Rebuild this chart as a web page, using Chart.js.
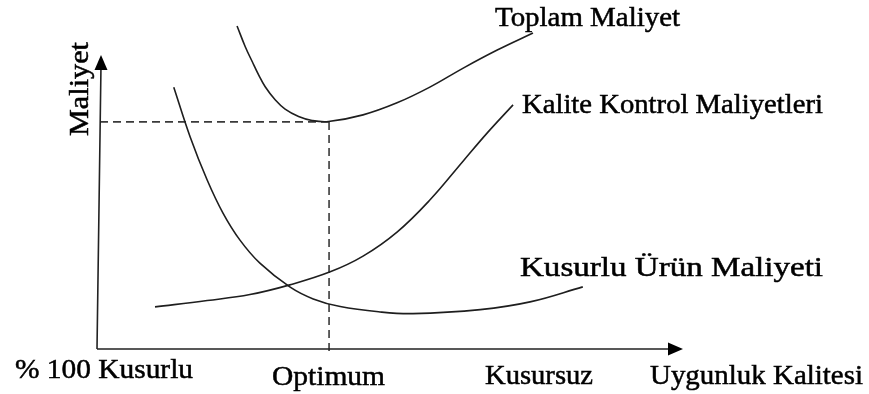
<!DOCTYPE html>
<html>
<head>
<meta charset="utf-8">
<script src="https://cdn.jsdelivr.net/npm/chart.js@4/dist/chart.umd.min.js"></script>
<style>
  html, body { margin: 0; padding: 0; background: #fff; }
  #wrap { width: 869px; height: 394px; }
</style>
</head>
<body>
<div id="wrap"><canvas id="graph"></canvas></div>
<script>
// values (x: uygunluk kalitesi 0-100, y: maliyet 0-100)
const toplamX = [23.9, 25.3, 26.5, 27.6, 28.7, 30.4, 32.1, 34.4, 36.7, 39.5, 45.4, 51.2, 56.8, 62.5, 68.3, 74.4];
const toplamY = [96.7, 90.5, 86.0, 82.0, 78.5, 74.6, 71.8, 69.6, 68.4, 68.1, 70.1, 73.7, 78.4, 84.1, 89.5, 94.6];

const kontrolX = [9.9, 18.8, 26.1, 32.9, 39.8, 45.4, 51.2, 56.8, 62.5, 66.6, 71.0];
const kontrolY = [12.6, 14.5, 16.3, 19.2, 23.1, 27.8, 35.0, 44.6, 56.3, 64.7, 73.1];

const kusurluX = [13.1, 15.9, 18.8, 21.5, 24.4, 27.8, 32.9, 36.9, 41.5, 48.3, 53.9, 65.4, 73.9, 82.9];
const kusurluY = [78.4, 63.5, 50.6, 40.7, 32.6, 25.7, 18.6, 15.0, 12.7, 11.1, 10.6, 11.8, 14.1, 18.6];

const optimum = [39.6, 68.0];

const seriesNames = ['Toplam Maliyet', 'Kalite Kontrol Maliyetleri', 'Kusurlu Ürün Maliyeti'];
const tickLabels = ['% 100 Kusurlu', 'Optimum', 'Kusursuz'];
const axisTitles = ['Uygunluk Kalitesi', 'Maliyet'];

function pts(xs, ys) {
  return xs.map((x, i) => ({ x: x, y: ys[i] }));
}

const lineColor = '#1e1e1e';
const font = '28px "Liberation Serif", "Times New Roman", serif';

function mkSet(label, xs, ys) {
  return {
    label: label,
    data: pts(xs, ys),
    showLine: true,
    borderColor: lineColor,
    borderWidth: 1.6,
    pointRadius: 0,
    tension: 0.4,
    fill: false,
    clip: false
  };
}

// text squeezed/stretched to the width it has in the picture
function fitText(ctx, text, x, y, w) {
  const m = ctx.measureText(text).width;
  ctx.save();
  ctx.translate(x, y);
  ctx.scale(w / m, 1);
  ctx.fillText(text, 0, 0);
  ctx.strokeText(text, 0, 0);
  ctx.restore();
}

const sketchPlugin = {
  id: 'sketch',
  beforeDatasetsDraw(chart) {
    const ctx = chart.ctx;
    const xs = chart.scales.x, ys = chart.scales.y;
    const x0 = xs.getPixelForValue(0), y0 = ys.getPixelForValue(0);
    const ox = xs.getPixelForValue(optimum[0]), oy = ys.getPixelForValue(optimum[1]);
    ctx.save();
    // dashed guide lines
    ctx.strokeStyle = '#3a3a3a';
    ctx.lineWidth = 1.6;
    ctx.setLineDash([8, 5]);
    ctx.beginPath();
    ctx.moveTo(x0 + 3, oy);
    ctx.lineTo(ox, oy);
    ctx.moveTo(ox, oy);
    ctx.lineTo(ox, y0 + 2);
    ctx.stroke();
    ctx.setLineDash([]);
    // axes
    const xEnd = xs.getPixelForValue(100), yEnd = ys.getPixelForValue(88);
    ctx.strokeStyle = '#222';
    ctx.lineWidth = 1.6;
    ctx.beginPath();
    ctx.moveTo(x0, y0);
    ctx.lineTo(x0 + 4, yEnd + 10);
    ctx.moveTo(x0, y0);
    ctx.lineTo(xEnd - 10, y0);
    ctx.stroke();
    ctx.fillStyle = '#000';
    ctx.beginPath();
    ctx.moveTo(x0 + 4, yEnd);
    ctx.lineTo(x0 - 2.5, yEnd + 15);
    ctx.lineTo(x0 + 10.5, yEnd + 15);
    ctx.closePath();
    ctx.fill();
    ctx.beginPath();
    ctx.moveTo(xEnd, y0);
    ctx.lineTo(xEnd - 15, y0 - 6.5);
    ctx.lineTo(xEnd - 15, y0 + 6.5);
    ctx.closePath();
    ctx.fill();
    ctx.restore();
  },
  afterDraw(chart) {
    const ctx = chart.ctx;
    ctx.save();
    ctx.fillStyle = '#000';
    ctx.strokeStyle = '#000';
    ctx.lineWidth = 0.5;
    ctx.font = font;
    ctx.textAlign = 'left';
    ctx.textBaseline = 'alphabetic';
    fitText(ctx, seriesNames[0], 495, 26, 185);
    fitText(ctx, seriesNames[1], 522, 113, 301);
    fitText(ctx, seriesNames[2], 520, 276, 303);
    fitText(ctx, tickLabels[0], 15, 378, 178);
    fitText(ctx, tickLabels[1], 272, 385, 113);
    fitText(ctx, tickLabels[2], 485, 384, 108);
    fitText(ctx, axisTitles[0], 650, 384, 213);
    ctx.translate(88, 136);
    ctx.rotate(-Math.PI / 2);
    fitText(ctx, axisTitles[1], 0, 0, 94);
    ctx.restore();
  }
};

const graph = document.getElementById('graph');
const config = {
  type: 'scatter',
  data: {
    datasets: [
      mkSet(seriesNames[0], toplamX, toplamY),
      mkSet(seriesNames[1], kontrolX, kontrolY),
      mkSet(seriesNames[2], kusurluX, kusurluY)
    ]
  },
  options: {
    responsive: true,
    maintainAspectRatio: false,
    animation: false,
    layout: { padding: { left: 97, right: 186, top: 15, bottom: 45 } },
    plugins: { legend: { display: false }, tooltip: { enabled: false } },
    scales: {
      x: { type: 'linear', min: 0, max: 100, display: false },
      y: { type: 'linear', min: 0, max: 100, display: false }
    }
  },
  plugins: [sketchPlugin]
};

let graphVisible = new Chart(graph, config);
</script>
</body>
</html>
